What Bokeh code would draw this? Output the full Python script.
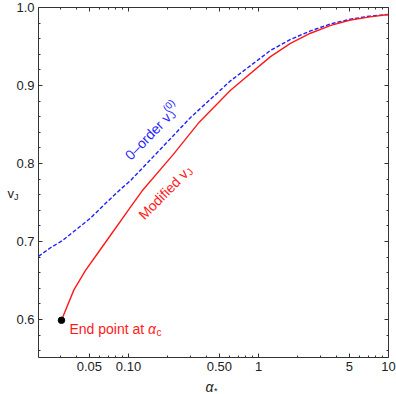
import math
from bokeh.plotting import figure
from bokeh.models import Range1d, FixedTicker, LogAxis, LinearAxis, Label
from bokeh.embed import file_html
from bokeh.resources import INLINE

# ---- data ----
zero_order_x = [0.0203, 0.0251, 0.0309, 0.0453, 0.051, 0.0686, 0.0868, 0.1035,
                0.222, 0.30, 0.609, 1.237, 1.76, 2.51, 3.6, 5.10, 7.2, 10.0]
zero_order_y = [0.681, 0.692, 0.701, 0.723, 0.730, 0.751, 0.767, 0.778,
                0.836, 0.859, 0.906, 0.945, 0.959, 0.970, 0.979, 0.985, 0.989, 0.991]

modified_x = [0.0305, 0.038, 0.0467, 0.0574, 0.0727, 0.1035, 0.1274, 0.222,
              0.35, 0.609, 1.237, 1.76, 2.51, 3.6, 5.10, 7.2, 10.0]
modified_y = [0.599, 0.638, 0.663, 0.684, 0.708, 0.744, 0.765, 0.812,
              0.853, 0.894, 0.937, 0.954, 0.967, 0.977, 0.984, 0.988, 0.991]

end_point_x = [0.0305]
end_point_y = [0.599]

x_ticks = [0.05, 0.1, 0.5, 1.0, 5.0, 10.0]
x_tick_labels = ["0.05", "0.10", "0.50", "1", "5", "10"]
x_minor = [0.03, 0.04, 0.06, 0.07, 0.08, 0.09, 0.2, 0.3, 0.4, 0.6, 0.7, 0.8, 0.9,
           2.0, 3.0, 4.0, 6.0, 7.0, 8.0, 9.0]
y_ticks = [0.6, 0.7, 0.8, 0.9, 1.0]
y_tick_labels = ["0.6", "0.7", "0.8", "0.9", "1.0"]
y_minor = [0.56, 0.58, 0.62, 0.64, 0.66, 0.68, 0.72, 0.74, 0.76, 0.78,
           0.82, 0.84, 0.86, 0.88, 0.92, 0.94, 0.96, 0.98]

X_MIN, X_MAX = 0.0203, 10.0
Y_MIN, Y_MAX = 0.5513, 1.0

FONT = "Liberation Sans"
AXC = "#333333"
TXT = "#222222"
BLUE = "#1f1fff"
RED = "#ff1a1a"

p = figure(width=396, height=394, x_axis_type="log",
           x_range=Range1d(X_MIN, X_MAX), y_range=Range1d(Y_MIN, Y_MAX),
           output_backend="svg", toolbar_location=None,
           min_border_left=38, min_border_right=8,
           min_border_top=7, min_border_bottom=37)
p.grid.visible = False
p.outline_line_color = AXC
p.outline_line_width = 1
p.background_fill_color = "white"
p.border_fill_color = "white"


def style_axis(ax, labels=True):
    ax.axis_line_color = None
    ax.major_tick_in = 4
    ax.major_tick_out = 0
    ax.minor_tick_in = 2
    ax.minor_tick_out = 0
    ax.major_tick_line_color = AXC
    ax.minor_tick_line_color = AXC
    ax.major_label_text_font = FONT
    ax.major_label_text_color = TXT
    if labels:
        ax.major_label_text_font_size = "13px"
        ax.major_label_standoff = 4
    else:
        ax.major_label_text_font_size = "0px"
        ax.major_label_standoff = 0


xa = p.xaxis[0]
xa.ticker = FixedTicker(ticks=x_ticks, minor_ticks=x_minor)
xa.major_label_overrides = dict(zip(x_ticks, x_tick_labels))
style_axis(xa)

ya = p.yaxis[0]
ya.ticker = FixedTicker(ticks=y_ticks, minor_ticks=y_minor)
ya.major_label_overrides = dict(zip(y_ticks, y_tick_labels))
style_axis(ya)

top = LogAxis(ticker=FixedTicker(ticks=x_ticks, minor_ticks=x_minor),
              major_label_overrides={t: "" for t in x_ticks})
style_axis(top, labels=False)
p.add_layout(top, "above")

right = LinearAxis(ticker=FixedTicker(ticks=y_ticks, minor_ticks=y_minor),
                   major_label_overrides={t: "" for t in y_ticks})
style_axis(right, labels=False)
p.add_layout(right, "right")

# ---- curves ----
p.line(zero_order_x, zero_order_y, line_color=BLUE, line_width=1.4,
       line_dash="4 2")
p.line(modified_x, modified_y, line_color=RED, line_width=1.4)
p.scatter(end_point_x, end_point_y, size=6.5, color="black")


def put(x, y, text, dx=0.0, dy=0.0, size=13, color="black", angle=0.0,
        italic=False, place="center"):
    p.add_layout(Label(x=x, y=y, x_offset=dx, y_offset=dy, text=text,
                       angle=angle, text_font=FONT,
                       text_font_size=f"{size}px", text_color=color,
                       text_font_style="italic" if italic else "normal",
                       text_baseline="alphabetic", text_align="left"),
                 place)


def put_rot(x, y, text, u, v, theta_deg, size, color):
    t = math.radians(theta_deg)
    dx = u * math.cos(t) - v * math.sin(t)
    dy = u * math.sin(t) + v * math.cos(t)
    put(x, y, text, dx, dy, size, color, angle=t)


# 0-order label (rotated)
ax0, ay0, th0 = 0.0982, 0.8077, 46
put_rot(ax0, ay0, "0\u2013order v", 0, 0, th0, 14, BLUE)
put_rot(ax0, ay0, "J", 59.5, -3, th0, 10, BLUE)
put_rot(ax0, ay0, "(0)", 60, 6.5, th0, 10, BLUE)

# Modified label (rotated)
am, bm, thm = 0.1215, 0.7295, 45.5
put_rot(am, bm, "Modified v", 2, 0, thm, 14, RED)
put_rot(am, bm, "J", 66, -3, thm, 10, RED)

# End point label
ex, ey = end_point_x[0], end_point_y[0]
put(ex, ey, "End point at ", 8, -9, 14, RED)
put(ex, ey, "\u03b1", 86.5, -9, 14, RED, italic=True)
put(ex, ey, "c", 95, -12, 10, RED)

# axis titles, placed in side panels so that they are not clipped
put(X_MIN, 0.7615, "v", -31, 0, 13, TXT, place="left")
put(X_MIN, 0.7615, "J", -24.5, -3, 9, TXT, place="left")
put(0.3903, Y_MIN, "\u03b1", 0, -29, 14, TXT, italic=True, place="below")
put(0.3903, Y_MIN, "*", 8.5, -33, 9, TXT, place="right")

open("out.html", "w").write(file_html(p, INLINE))
